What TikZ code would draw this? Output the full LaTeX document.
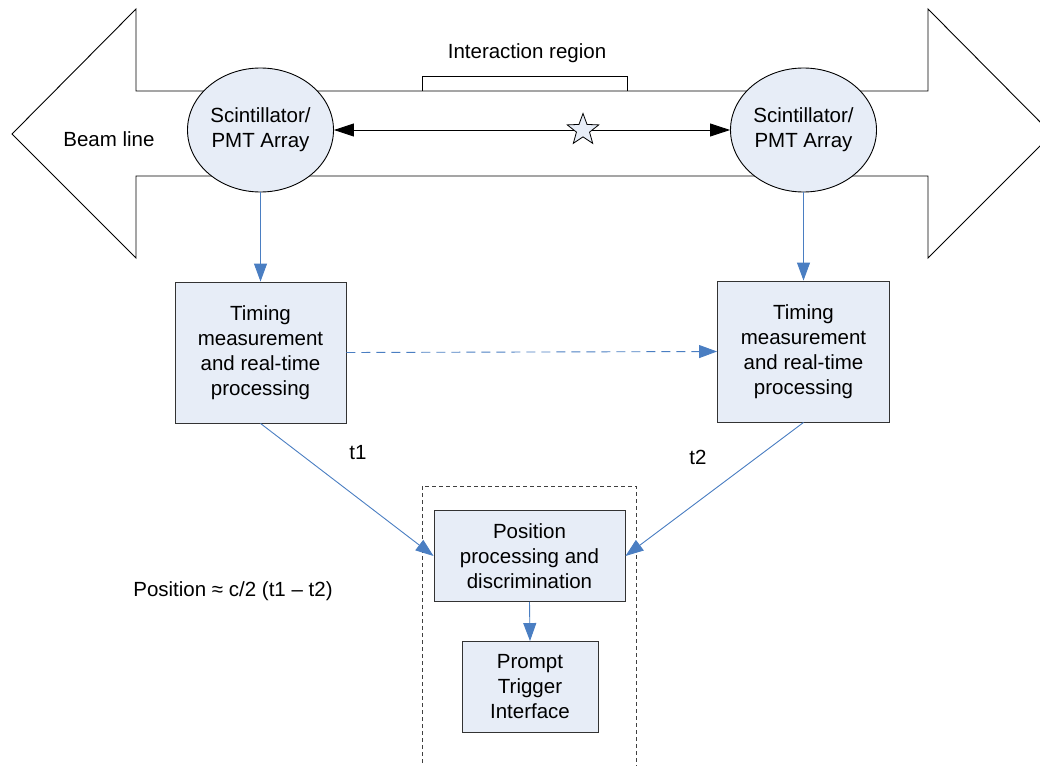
\documentclass[tikz,border=0pt]{standalone}
\usepackage{fontspec}
\setmainfont{Liberation Sans}
\usetikzlibrary{arrows.meta,shapes.geometric}
\definecolor{boxfill}{HTML}{E7EDF7}
\definecolor{flowblue}{HTML}{4A7EC2}
\tikzset{
  txt/.style={font=\fontsize{20.5}{25}\selectfont, align=center, inner sep=0pt},
  detector/.style={ellipse, draw=black, fill=boxfill, line width=0.9pt, minimum width=146pt, minimum height=124pt, inner sep=0pt, txt},
  procbox/.style={rectangle, draw=black!80, fill=boxfill, line width=0.9pt, inner sep=0pt, txt},
  flow/.style={draw=flowblue, line width=0.9pt, -{Triangle[length=18pt,width=13pt]}, shorten >=0pt},
  dflow/.style={flow, dash pattern=on 9pt off 6pt},
  link/.style={draw=black, line width=0.9pt, {Triangle[length=20pt,width=13pt]}-{Triangle[length=20pt,width=13pt]}},
  outline/.style={draw=black, line width=0.9pt}
}
\begin{document}
\begin{tikzpicture}[x=1pt,y=-1pt]
\useasboundingbox (0,0) rectangle (1040,765);
\clip (0,0) rectangle (1040,765);
% beam line double arrow
\draw[outline, fill=white] (12,134) -- (136,9) -- (136,91) -- (928,91) -- (928,9) -- (1052,134)
  -- (928,258) -- (928,176) -- (136,176) -- (136,258) -- cycle;
\node[txt] (beam) at (109,139) {Beam line};
% interaction region bracket
\draw[outline] (422,91) -- (422,76) -- (627,76) -- (627,91);
\node[txt] (ir) at (527,53) {Interaction region};
% detectors
\node[detector] (sl) at (260.5,130) {Scintillator/\\PMT Array};
\node[detector] (sr) at (803.5,130) {Scintillator/\\PMT Array};
\draw[link] (sl.east) -- (sr.west);
\node[star, star points=5, star point ratio=2.4, draw=black, fill=boxfill, line width=0.8pt, minimum size=33pt, inner sep=0pt] (st) at (583,130) {};
% timing boxes
\node[procbox, minimum width=171pt, minimum height=141pt] (tl) at (260.5,352.5) {Timing\\measurement\\and real-time\\processing};
\node[procbox, minimum width=172pt, minimum height=141pt] (tr) at (803.5,351.5) {Timing\\measurement\\and real-time\\processing};
\draw[flow] (sl.south) -- (tl.north);
\draw[flow] (sr.south) -- (tr.north);
\draw[dflow] (tl.east) -- (tr.west);
% container
\draw[draw=black!75, line width=0.9pt, dash pattern=on 4pt off 3pt] (422,770) -- (422,486) -- (636,486) -- (636,770);
% position boxes
\node[procbox, minimum width=191pt, minimum height=91pt] (pos) at (529.5,556) {Position\\processing and\\discrimination};
\node[procbox, minimum width=136pt, minimum height=91pt] (pti) at (530,687) {Prompt\\Trigger\\Interface};
\draw[flow] (tl.south) -- (pos.west);
\draw[flow] (tr.south) -- (pos.east);
\draw[flow] (pos.south) -- (pti.north);
\node[txt] (t1) at (358,453) {t1};
\node[txt] (t2) at (698,457) {t2};
\node[txt] (eq) at (233,591) {Position ≈ c/2 (t1 – t2)};
\end{tikzpicture}
\end{document}
